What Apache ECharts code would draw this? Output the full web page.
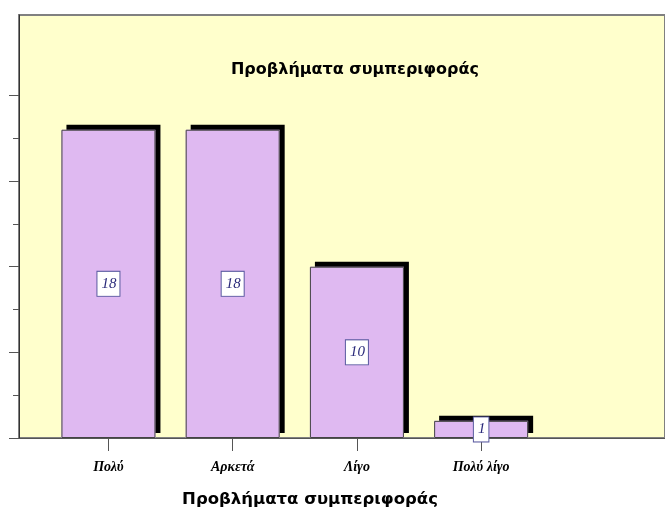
<!DOCTYPE html>
<html>
<head>
<meta charset="utf-8">
<script src="https://cdn.jsdelivr.net/npm/echarts@6/dist/echarts.min.js"></script>
<style>
  html, body { margin: 0; padding: 0; background: #fff; }
  #chart { width: 665px; height: 509px; }
</style>
</head>
<body>
<div id="chart"></div>
<script>
// κατηγορίες και τιμές
const categories = ['Πολύ', 'Αρκετά', 'Λίγο', 'Πολύ λίγο']
const counts = [18, 18, 10, 1]
const majorTicks = [0, 5, 10, 15, 20]
const minorTicks = [2.5, 7.5, 12.5, 17.5]
const chartTitle = 'Προβλήματα συμπεριφοράς'
const axisTitle = 'Προβλήματα συμπεριφοράς'

const positions = categories.map((c, i) => i)
const barData = counts.map((v, i) => [i, v])

let myChart = echarts.init(document.getElementById('chart'))
myChart.setOption({
  animation: false,
  backgroundColor: '#ffffff',
  title: [
    {
      text: chartTitle,
      left: 350,
      top: 57,
      textAlign: 'center',
      textStyle: { fontFamily: 'DejaVu Sans', fontWeight: 'bold', fontSize: 16, color: '#000' }
    },
    {
      text: axisTitle,
      left: 305,
      top: 486,
      textAlign: 'center',
      textStyle: { fontFamily: 'DejaVu Sans', fontWeight: 'bold', fontSize: 16.5, color: '#000' }
    }
  ],
  grid: {
    left: 19,
    top: 15,
    right: -4,
    bottom: 71,
    show: true,
    backgroundColor: '#ffffcc',
    borderColor: '#808080',
    borderWidth: 2
  },
  xAxis: {
    type: 'value',
    min: -0.72,
    max: 4.48,
    splitLine: { show: false },
    axisLine: { onZero: false, lineStyle: { color: '#555', width: 1 } },
    axisTick: {
      customValues: positions,
      length: 13,
      lineStyle: { color: '#555' }
    },
    axisLabel: {
      customValues: positions,
      margin: 22,
      formatter: v => categories[Math.round(v)],
      fontFamily: 'Liberation Serif',
      fontStyle: 'italic',
      fontWeight: 'bold',
      fontSize: 14,
      color: '#000'
    }
  },
  yAxis: [
    {
      type: 'value',
      position: 'left',
      min: 0,
      max: 24.7,
      splitLine: { show: false },
      axisLine: { show: true, onZero: false, lineStyle: { color: '#333' } },
      axisTick: { customValues: majorTicks, length: 10, lineStyle: { color: '#555' } },
      axisLabel: { show: false }
    },
    {
      // δευτερεύουσες υποδιαιρέσεις
      type: 'value',
      position: 'left',
      min: 0,
      max: 24.7,
      splitLine: { show: false },
      axisLine: { show: false, onZero: false },
      axisTick: { show: true, customValues: minorTicks, length: 6, lineStyle: { color: '#555' } },
      axisLabel: { show: false }
    }
  ],
  series: [
    {
      // γέμισμα με σκιά
      type: 'bar',
      barWidth: 94,
      barGap: '-100%',
      data: barData,
      itemStyle: {
        color: '#dfb9f1',
        shadowColor: '#000',
        shadowBlur: 0,
        shadowOffsetX: 5,
        shadowOffsetY: -5
      }
    },
    {
      // περίγραμμα και ετικέτες
      type: 'bar',
      barWidth: 94,
      barGap: '-100%',
      data: barData,
      itemStyle: {
        color: 'rgba(0,0,0,0)',
        borderColor: '#444',
        borderWidth: 1
      },
      label: {
        show: true,
        position: 'inside',
        formatter: p => p.value[1],
        fontFamily: 'Liberation Serif',
        fontStyle: 'italic',
        fontSize: 15,
        color: '#2a2a7a',
        backgroundColor: '#fff',
        borderColor: '#5a5aa0',
        borderWidth: 1,
        lineHeight: 15,
        padding: [9, 3, 0, 4]
      }
    }
  ]
})
</script>
</body>
</html>
